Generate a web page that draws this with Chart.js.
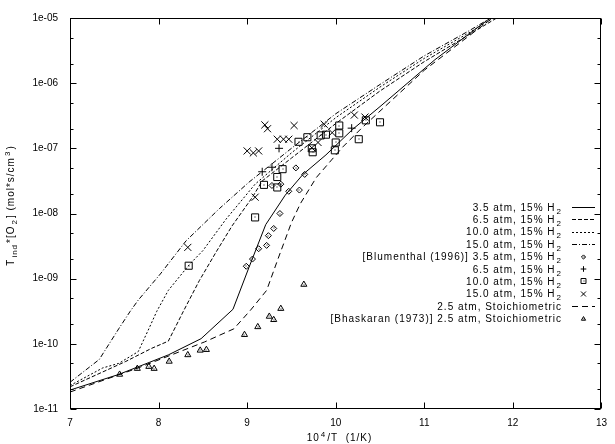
<!DOCTYPE html>
<html><head><meta charset="utf-8">
<script src="https://cdn.jsdelivr.net/npm/chart.js@4.4.1/dist/chart.umd.min.js"></script>
<style>html,body{margin:0;padding:0;background:#fff;overflow:hidden}canvas{display:block}</style>
</head><body>
<canvas id="c" width="615" height="444"></canvas>
<script>
// ---- axis ticks ----
const xTickValues = [7, 8, 9, 10, 11, 12, 13];
const yTickValues = [1e-11, 1e-10, 1e-9, 1e-8, 1e-7, 1e-6, 1e-5];
const yTickLabels = ['1e-11', '1e-10', '1e-09', '1e-08', '1e-07', '1e-06', '1e-05'];
const yMinorTickValues = [2e-11,5e-11,2e-10,5e-10,2e-9,5e-9,2e-8,5e-8,2e-7,5e-7,2e-6,5e-6];

// ---- model curves ----
const x35 = [7.0, 7.55, 8.11, 8.48, 8.84, 9.02, 9.21, 9.43, 9.63, 9.89, 10.19, 10.5, 11.12, 11.5, 12];
const y35 = [1.95e-11, 3.39e-11, 6.76e-11, 1.20e-10, 3.39e-10, 1.48e-9, 6.76e-9, 1.91e-8, 3.98e-8, 7.94e-8, 1.95e-7, 4.37e-7, 2.29e-6, 5.62e-6, 1.82e-5];

const x65 = [7.0, 7.63, 7.92, 8.11, 8.28, 8.46, 8.65, 8.83, 9.06, 9.17, 9.5, 10.0, 10.5, 11.0, 11.5, 12];
const y65 = [2.19e-11, 5.37e-11, 8.51e-11, 1.10e-10, 3.16e-10, 9.33e-10, 2.57e-9, 6.46e-9, 1.78e-8, 3.16e-8, 7.08e-8, 2.40e-7, 7.59e-7, 2.14e-6, 5.50e-6, 1.41e-5];

const x100 = [7.0, 7.37, 7.55, 7.77, 7.89, 7.98, 8.11, 8.35, 8.50, 8.76, 9.09, 9.5, 10.0, 10.5, 11.0, 11.5, 12];
const y100 = [2.29e-11, 4.27e-11, 5.01e-11, 7.59e-11, 1.70e-10, 3.16e-10, 6.61e-10, 1.66e-9, 2.69e-9, 8.13e-9, 2.82e-8, 8.51e-8, 2.95e-7, 8.71e-7, 2.40e-6, 5.89e-6, 1.51e-5];

const x150 = [7.0, 7.33, 7.55, 7.68, 7.77, 8.02, 8.31, 8.69, 9.02, 9.5, 10.0, 10.5, 11.0, 11.5, 12];
const y150 = [2.57e-11, 5.75e-11, 1.70e-10, 3.16e-10, 4.68e-10, 1.18e-9, 3.80e-9, 1.20e-8, 3.02e-8, 1.0e-7, 3.39e-7, 9.55e-7, 2.63e-6, 6.31e-6, 1.58e-5];

const x25 = [7.0, 7.77, 8.52, 8.85, 9.04, 9.22, 9.35, 9.50, 9.60, 9.78, 10.08, 10.3, 11.0, 11.5, 12];
const y25 = [1.82e-11, 4.27e-11, 1.07e-10, 1.70e-10, 3.31e-10, 6.61e-10, 2.04e-9, 7.24e-9, 1.41e-8, 3.55e-8, 1.05e-7, 2.09e-7, 1.58e-6, 5.25e-6, 1.74e-5];

// ---- Blumenthal (1996) measurements ----
const bl35X = [8.99, 9.06, 9.13, 9.22, 9.24, 9.30, 9.37, 9.47, 9.59, 9.65, 9.55, 9.28, 9.38];
const bl35Y = [1.55e-9, 2.0e-9, 2.88e-9, 3.24e-9, 4.57e-9, 5.89e-9, 1.0e-8, 2.19e-8, 2.29e-8, 3.98e-8, 5.01e-8, 2.69e-8, 2.82e-8];

const bl65X = [9.17, 9.28, 9.36, 10.18];
const bl65Y = [4.37e-8, 5.13e-8, 1.0e-7, 2.04e-7];

const bl100X = [8.34, 9.09, 9.19, 9.34, 9.34, 9.40, 9.58, 9.68, 9.73, 9.74, 9.83, 9.89, 9.99, 10.0, 10.04, 10.04, 10.26, 10.34, 10.50];
const bl100Y = [1.58e-9, 8.71e-9, 2.75e-8, 2.51e-8, 3.63e-8, 4.79e-8, 1.26e-7, 1.48e-7, 1.0e-7, 8.71e-8, 1.58e-7, 1.62e-7, 9.33e-8, 1.23e-7, 1.70e-7, 2.24e-7, 1.38e-7, 2.69e-7, 2.51e-7];

const bl150X = [8.33, 9.09, 9.0, 9.07, 9.13, 9.20, 9.23, 9.34, 9.41, 9.47, 9.53, 9.73, 9.80, 9.87, 9.96, 10.21, 10.33];
const bl150Y = [3.02e-9, 1.78e-8, 9.12e-8, 8.51e-8, 9.12e-8, 2.29e-7, 2.0e-7, 1.38e-7, 1.38e-7, 1.38e-7, 2.24e-7, 1.02e-7, 1.23e-7, 2.34e-7, 1.74e-7, 3.24e-7, 3.02e-7];

// ---- Bhaskaran (1973) measurements ----
const bhX = [7.56, 7.76, 7.89, 7.95, 8.12, 8.33, 8.47, 8.54, 8.97, 9.12, 9.25, 9.30, 9.38, 9.64];
const bhY = [3.39e-11, 4.17e-11, 4.47e-11, 4.17e-11, 5.37e-11, 6.76e-11, 7.94e-11, 8.13e-11, 1.38e-10, 1.82e-10, 2.63e-10, 2.34e-10, 3.47e-10, 8.13e-10];

// ---- legend labels ----
const legendLabels = [
  '3.5 atm, 15% H', '6.5 atm, 15% H', '10.0 atm, 15% H', '15.0 atm, 15% H',
  '[Blumenthal (1996)] 3.5 atm, 15% H', '6.5 atm, 15% H', '10.0 atm, 15% H', '15.0 atm, 15% H',
  '2.5 atm, Stoichiometric', '[Bhaskaran (1973)] 2.5 atm, Stoichiometric'
];
const legendSub = ['2','2','2','2','2','2','2','2','',''];

const pts = (xs, ys) => xs.map((v, i) => ({x: v, y: ys[i]}));
const lineDs = (xs, ys, dash) => ({data: pts(xs, ys), showLine: true, borderColor: '#000', borderWidth: 1, borderDash: dash, pointRadius: 0, pointHoverRadius: 0, fill: false, tension: 0});
const markDs = (xs, ys, style, r, dot) => ({data: pts(xs, ys), showLine: false, pointStyle: style, pointRadius: r, pointHoverRadius: r, borderColor: '#000', backgroundColor: 'rgba(0,0,0,0)', pointBorderWidth: 1, borderWidth: 1, centerDot: dot});

const datasets = [
  lineDs(x35, y35, []),
  lineDs(x65, y65, [4, 2]),
  lineDs(x100, y100, [2, 2]),
  lineDs(x150, y150, [5, 2, 1, 2]),
  markDs(bl35X, bl35Y, 'rectRot', 3, true),
  markDs(bl65X, bl65Y, 'cross', 4, false),
  markDs(bl100X, bl100Y, 'rect', 5, true),
  markDs(bl150X, bl150Y, 'crossRot', 5, false),
  lineDs(x25, y25, [6, 4]),
  markDs(bhX, bhY, 'triangle', 3.5, true)
];

const FONT = '10px "Liberation Sans", Arial, sans-serif';
const SMALL = '8px "Liberation Sans", Arial, sans-serif';

function drawRich(ctx, parts, x, y) {
  let cx = x;
  for (const p of parts) {
    ctx.font = p.k === 'n' ? FONT : SMALL;
    const dy = p.k === 'sub' ? 3 : (p.k === 'sup' ? -4 : 0);
    ctx.fillText(p.t, cx, y + dy);
    cx += ctx.measureText(p.t).width + 1;
  }
  return cx - x;
}
function richWidth(ctx, parts) {
  let w = 0;
  for (const p of parts) { ctx.font = p.k === 'n' ? FONT : SMALL; w += ctx.measureText(p.t).width + 1; }
  return w;
}

const decorPlugin = {
  id: 'decor',
  afterDatasetsDraw(chart) {
    const ctx = chart.ctx;
    ctx.save();
    ctx.fillStyle = '#000';
    chart.data.datasets.forEach((ds, i) => {
      if (!ds.centerDot) return;
      chart.getDatasetMeta(i).data.forEach(el => {
        const a = chart.chartArea;
        if (el.x < a.left || el.x > a.right || el.y < a.top || el.y > a.bottom) return;
        ctx.fillRect(Math.round(el.x) - 0.5, Math.round(el.y) - 0.5, 1, 1);
      });
    });
    ctx.restore();
  },
  afterDraw(chart) {
    const ctx = chart.ctx, a = chart.chartArea, xs = chart.scales.x, ys = chart.scales.y;
    ctx.save();
    ctx.strokeStyle = '#000'; ctx.fillStyle = '#000'; ctx.lineWidth = 1; ctx.setLineDash([]);
    const L = Math.round(a.left) + 0.5, R = Math.round(a.right) - 0.5, T = Math.round(a.top) + 0.5, B = Math.round(a.bottom) - 0.5;
    ctx.strokeRect(L, T, R - L, B - T);
    ctx.beginPath();
    xTickValues.forEach(v => {
      const px = Math.round(xs.getPixelForValue(v)) + 0.5;
      ctx.moveTo(px, B); ctx.lineTo(px, B - 6);
      ctx.moveTo(px, T); ctx.lineTo(px, T + 6);
    });
    yTickValues.forEach(v => {
      const py = Math.round(ys.getPixelForValue(v)) + 0.5;
      ctx.moveTo(L, py); ctx.lineTo(L + 6, py);
      ctx.moveTo(R, py); ctx.lineTo(R - 6, py);
    });
    yMinorTickValues.forEach(v => {
      const py = Math.round(ys.getPixelForValue(v)) + 0.5;
      ctx.moveTo(L, py); ctx.lineTo(L + 3, py);
      ctx.moveTo(R, py); ctx.lineTo(R - 3, py);
    });
    ctx.stroke();

    // legend
    try { ctx.letterSpacing = '1px'; } catch (e) {}
    ctx.textBaseline = 'alphabetic'; ctx.textAlign = 'left';
    const textRight = 563, sx0 = 572, sx1 = 595, mx = 583.5;
    chart.data.datasets.forEach((ds, i) => {
      const cy = 207 + 12.4 * i;
      const parts = [{t: legendLabels[i], k: 'n'}];
      if (legendSub[i]) parts.push({t: legendSub[i], k: 'sub'});
      const w = richWidth(ctx, parts);
      ctx.fillStyle = '#000';
      drawRich(ctx, parts, textRight - w, cy + 3.5);
      if (ds.showLine) {
        ctx.beginPath(); ctx.setLineDash(ds.borderDash || []);
        ctx.moveTo(sx0, Math.round(cy) + 0.5); ctx.lineTo(sx1, Math.round(cy) + 0.5); ctx.stroke();
        ctx.setLineDash([]);
      } else {
        ctx.fillStyle = 'rgba(0,0,0,0)';
        ctx.strokeStyle = '#000';
        Chart.helpers.drawPoint(ctx, {pointStyle: ds.pointStyle, radius: ds.pointRadius * 0.7, borderWidth: 1, rotation: 0}, mx, Math.round(cy));
        ctx.fillStyle = '#000';
        if (ds.centerDot) ctx.fillRect(Math.round(mx) - 0.5, Math.round(cy) - 0.5, 1, 1);
      }
    });

    // x title
    ctx.fillStyle = '#000';
    const xParts = [{t: '10', k: 'n'}, {t: '4', k: 'sup'}, {t: '/T  (1/K)', k: 'n'}];
    const xw = richWidth(ctx, xParts);
    drawRich(ctx, xParts, 340 - xw / 2, 441);

    // y title (rotated)
    const yParts = [{t: 'T', k: 'n'}, {t: 'ind', k: 'sub'}, {t: '*[O', k: 'n'}, {t: '2', k: 'sub'}, {t: '] (mol*s/cm', k: 'n'}, {t: '3', k: 'sup'}, {t: ')', k: 'n'}];
    const yw = richWidth(ctx, yParts);
    ctx.translate(14, 205);
    ctx.rotate(-Math.PI / 2);
    drawRich(ctx, yParts, -yw / 2, 0);
    ctx.restore();
  }
};

new Chart(document.getElementById('c'), {
  type: 'scatter',
  data: {datasets},
  options: {
    responsive: false,
    animation: false,
    devicePixelRatio: 1,
    events: [],
    layout: {padding: {top: 5, right: 6, left: 0, bottom: 0}},
    plugins: {legend: {display: false}, tooltip: {enabled: false}},
    scales: {
      x: {
        type: 'linear', min: 7, max: 13,
        afterBuildTicks: s => { s.ticks = xTickValues.map(v => ({value: v})); },
        ticks: {color: '#000', font: {family: '"Liberation Sans", Arial, sans-serif', size: 10}, padding: 8, maxRotation: 0, autoSkip: false, callback: v => String(v)},
        grid: {display: false, drawTicks: false},
        border: {display: false},
        afterFit: s => { s.height = 35; }
      },
      y: {
        type: 'logarithmic', min: 1e-11, max: 1e-5,
        afterBuildTicks: s => { s.ticks = yTickValues.map(v => ({value: v})); },
        ticks: {color: '#000', font: {family: '"Liberation Sans", Arial, sans-serif', size: 10}, padding: 12, autoSkip: false,
          callback: (v) => { const i = yTickValues.findIndex(t => Math.abs(Math.log10(t) - Math.log10(v)) < 1e-6); return i >= 0 ? yTickLabels[i] : ''; }},
        grid: {display: false, drawTicks: false},
        border: {display: false},
        afterFit: s => { s.width = 70; }
      }
    }
  },
  plugins: [decorPlugin]
});
</script>
</body></html>
